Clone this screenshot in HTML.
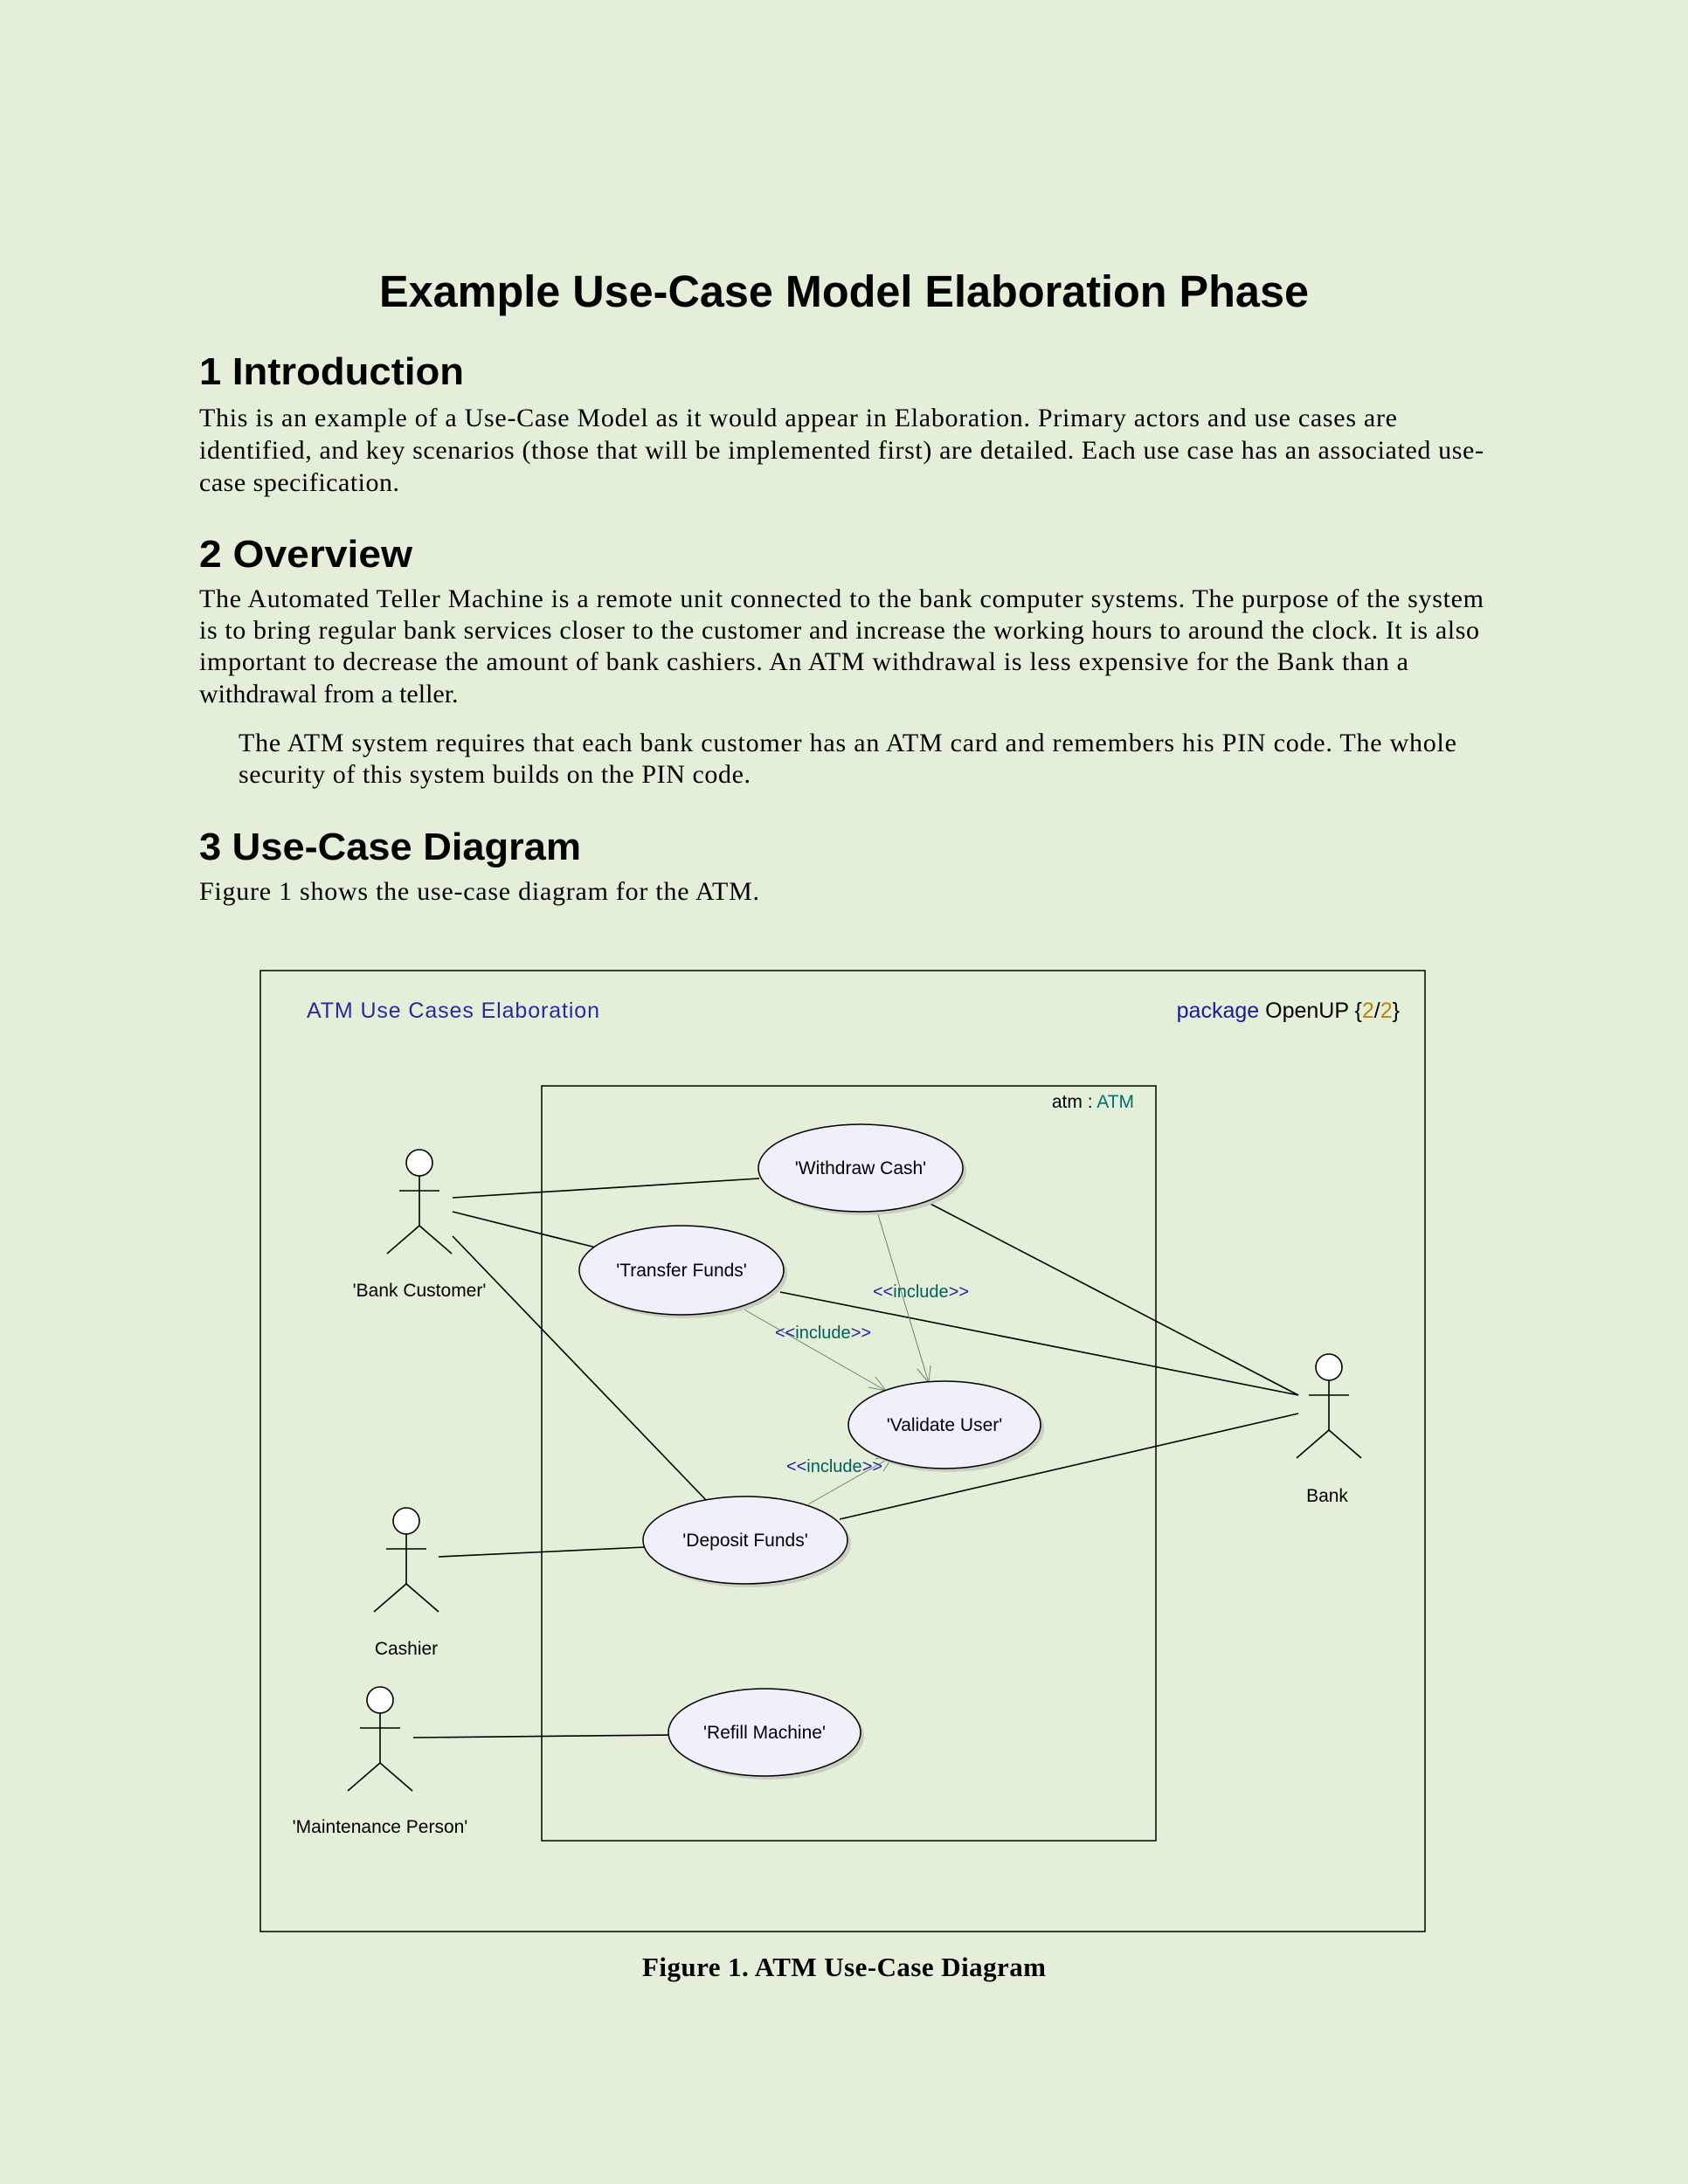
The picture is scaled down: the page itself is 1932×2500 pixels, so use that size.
<!DOCTYPE html>
<html><head><meta charset="utf-8"><style>
html,body{margin:0;padding:0;background:#e3efd9;}
svg{display:block}
.s{font-family:"Liberation Serif",serif;font-size:30px;fill:#000}
.h{font-family:"Liberation Sans",sans-serif;font-weight:bold;fill:#000}
.d{font-family:"Liberation Sans",sans-serif;fill:#000}
</style></head><body>
<svg width="1932" height="2500" viewBox="0 0 1932 2500" xmlns="http://www.w3.org/2000/svg">
<rect width="1932" height="2500" fill="#e3efd9"/>
<text class="h" x="966" y="351" font-size="51" text-anchor="middle" textLength="1064" lengthAdjust="spacingAndGlyphs">Example Use-Case Model Elaboration Phase</text>
<text class="h" x="228" y="440" font-size="44" textLength="303" lengthAdjust="spacingAndGlyphs">1  Introduction</text>
<text class="s" x="228" y="488" textLength="1371" lengthAdjust="spacing">This is an example of a Use-Case Model as it would appear in Elaboration.  Primary actors and use cases are</text>
<text class="s" x="228" y="525" textLength="1470" lengthAdjust="spacing">identified, and key scenarios (those that will be implemented first) are detailed. Each use case has an associated use-</text>
<text class="s" x="228" y="562" textLength="229" lengthAdjust="spacing">case specification.</text>
<text class="h" x="228" y="649" font-size="44" textLength="244" lengthAdjust="spacingAndGlyphs">2  Overview</text>
<text class="s" x="228" y="695" textLength="1470" lengthAdjust="spacing">The Automated Teller Machine is a remote unit connected to the bank computer systems. The purpose of the system</text>
<text class="s" x="228" y="731" textLength="1465" lengthAdjust="spacing">is to bring regular bank services closer to the customer and increase the working hours to around the clock. It is also</text>
<text class="s" x="228" y="767" textLength="1384" lengthAdjust="spacing">important to decrease the amount of bank cashiers. An ATM withdrawal is less expensive for the Bank than a</text>
<text class="s" x="228" y="804">withdrawal from a teller.</text>
<text class="s" x="273" y="860" textLength="1394" lengthAdjust="spacing">The ATM system requires that each bank customer has an ATM card and remembers his PIN code. The whole</text>
<text class="s" x="273" y="896" textLength="586" lengthAdjust="spacing">security of this system builds on the PIN code.</text>
<text class="h" x="228" y="984" font-size="44" textLength="437" lengthAdjust="spacingAndGlyphs">3  Use-Case Diagram</text>
<text class="s" x="228" y="1030" textLength="641" lengthAdjust="spacing">Figure 1 shows the use-case diagram for the ATM.</text>

<rect x="298" y="1111" width="1333" height="1100" fill="none" stroke="#000" stroke-width="1.5"/>
<text class="d" x="351" y="1165" font-size="25" style="fill:#2a2aa0" textLength="335" lengthAdjust="spacing">ATM Use Cases Elaboration</text>
<text class="d" x="1602" y="1165" font-size="25" text-anchor="end"><tspan style="fill:#1a1a9a">package</tspan> OpenUP    {<tspan style="fill:#b8860b">2</tspan>/<tspan style="fill:#b8860b">2</tspan>}</text>
<rect x="620" y="1243" width="703" height="864" fill="none" stroke="#000" stroke-width="1.5"/>
<text class="d" x="1298" y="1268" font-size="21" text-anchor="end">atm : <tspan style="fill:#007070">ATM</tspan></text>

<g stroke="#000" stroke-width="1.6" fill="none">
<line x1="518" y1="1371" x2="869" y2="1349"/>
<line x1="518" y1="1387" x2="682" y2="1428"/>
<line x1="518" y1="1415" x2="808" y2="1717"/>
<line x1="1063" y1="1377" x2="1486" y2="1597"/>
<line x1="893" y1="1479" x2="1486" y2="1597"/>
<line x1="961" y1="1739" x2="1486" y2="1618"/>
<line x1="502" y1="1782" x2="738" y2="1771"/>
<line x1="473" y1="1989" x2="767" y2="1986"/>
</g>
<g stroke="#6a8a6a" stroke-width="1" fill="none">
<line x1="1004" y1="1387" x2="1063" y2="1583"/>
<polyline points="1050,1567 1063,1583 1065,1563"/>
<line x1="850" y1="1498" x2="1014" y2="1592"/>
<polyline points="994,1588 1014,1592 1002,1576"/>
<line x1="925" y1="1722" x2="1022" y2="1667"/>
<polyline points="1002,1670 1022,1667 1011,1684"/>
</g>
<g font-family="Liberation Sans,sans-serif" font-size="20" text-anchor="middle">
<text x="1054" y="1485"><tspan fill="#1f1f9f">&lt;&lt;</tspan><tspan fill="#006060">include</tspan><tspan fill="#1f1f9f">&gt;&gt;</tspan></text>
<text x="942" y="1532"><tspan fill="#1f1f9f">&lt;&lt;</tspan><tspan fill="#006060">include</tspan><tspan fill="#1f1f9f">&gt;&gt;</tspan></text>
<text x="955" y="1685"><tspan fill="#1f1f9f">&lt;&lt;</tspan><tspan fill="#006060">include</tspan><tspan fill="#1f1f9f">&gt;&gt;</tspan></text>
</g>

<g stroke="#000" stroke-width="1.5">
<ellipse cx="989" cy="1341" rx="117" ry="50" fill="#c8cfc0" stroke="none"/>
<ellipse cx="985" cy="1337" rx="117" ry="50" fill="#f0f0fa"/>
<ellipse cx="784" cy="1458" rx="117" ry="51" fill="#c8cfc0" stroke="none"/>
<ellipse cx="780" cy="1454" rx="117" ry="51" fill="#f0f0fa"/>
<ellipse cx="1085" cy="1635" rx="110" ry="50" fill="#c8cfc0" stroke="none"/>
<ellipse cx="1081" cy="1631" rx="110" ry="50" fill="#f0f0fa"/>
<ellipse cx="857" cy="1767" rx="117" ry="50" fill="#c8cfc0" stroke="none"/>
<ellipse cx="853" cy="1763" rx="117" ry="50" fill="#f0f0fa"/>
<ellipse cx="879" cy="1987" rx="110" ry="50" fill="#c8cfc0" stroke="none"/>
<ellipse cx="875" cy="1983" rx="110" ry="50" fill="#f0f0fa"/>
</g>
<g class="d" font-size="21" text-anchor="middle" font-family="Liberation Sans,sans-serif">
<text x="985" y="1344">'Withdraw Cash'</text>
<text x="780" y="1461">'Transfer Funds'</text>
<text x="1081" y="1638">'Validate User'</text>
<text x="853" y="1770">'Deposit Funds'</text>
<text x="875" y="1990">'Refill Machine'</text>
</g>

<g stroke="#000" stroke-width="1.6" fill="none">
<g transform="translate(480,1331)"><circle r="15" fill="#fff"/><line x1="0" y1="15" x2="0" y2="72"/><line x1="-23" y1="32" x2="23" y2="32"/><line x1="0" y1="72" x2="-37" y2="104"/><line x1="0" y1="72" x2="37" y2="104"/></g>
<g transform="translate(1521,1565)"><circle r="15" fill="#fff"/><line x1="0" y1="15" x2="0" y2="72"/><line x1="-23" y1="32" x2="23" y2="32"/><line x1="0" y1="72" x2="-37" y2="104"/><line x1="0" y1="72" x2="37" y2="104"/></g>
<g transform="translate(465,1741)"><circle r="15" fill="#fff"/><line x1="0" y1="15" x2="0" y2="72"/><line x1="-23" y1="32" x2="23" y2="32"/><line x1="0" y1="72" x2="-37" y2="104"/><line x1="0" y1="72" x2="37" y2="104"/></g>
<g transform="translate(435,1946)"><circle r="15" fill="#fff"/><line x1="0" y1="15" x2="0" y2="72"/><line x1="-23" y1="32" x2="23" y2="32"/><line x1="0" y1="72" x2="-37" y2="104"/><line x1="0" y1="72" x2="37" y2="104"/></g>
</g>
<g font-family="Liberation Sans,sans-serif" font-size="21" text-anchor="middle">
<text x="480" y="1484">'Bank Customer'</text>
<text x="1519" y="1719">Bank</text>
<text x="465" y="1894">Cashier</text>
<text x="435" y="2098">'Maintenance Person'</text>
</g>
<text x="966" y="2262" font-family="Liberation Serif,serif" font-weight="bold" font-size="31" text-anchor="middle" textLength="462" lengthAdjust="spacing">Figure 1. ATM Use-Case Diagram</text>
</svg>
</body></html>
